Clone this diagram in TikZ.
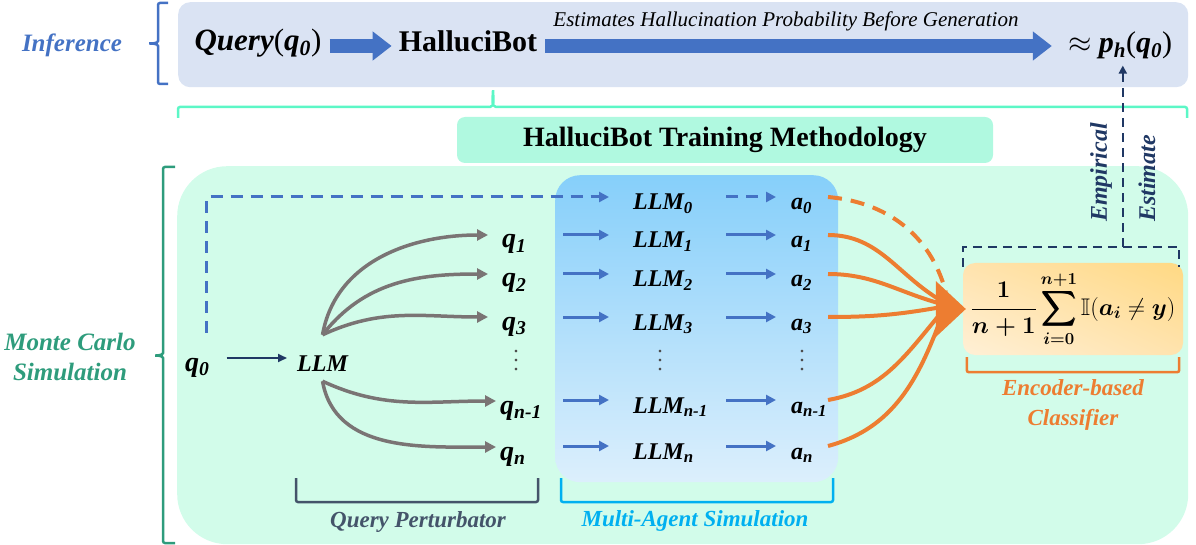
\documentclass[tikz,border=0pt]{standalone}
\usepackage{fix-cm}
\usepackage{amsmath,amssymb,bm}
\usepackage{fontspec}
\setmainfont{Liberation Serif}[BoldItalicFont={Liberation Serif Bold Italic}]
\usetikzlibrary{arrows.meta,calc,shadings}
\definecolor{infblue}{HTML}{4472C4}
\definecolor{topbg}{HTML}{DAE3F3}
\definecolor{aqua}{HTML}{5CF7C6}
\definecolor{trainbg}{HTML}{B0F9E0}
\definecolor{greenbg}{HTML}{D2FCEA}
\definecolor{mcteal}{HTML}{2E9C7C}
\definecolor{agtop}{HTML}{86CFFA}
\definecolor{agbot}{HTML}{DCEFFC}
\definecolor{navy}{HTML}{203864}
\definecolor{qgray}{HTML}{7A7474}
\definecolor{orng}{HTML}{ED7D31}
\definecolor{perturb}{HTML}{44546A}
\definecolor{cyanb}{HTML}{00B0F0}
\definecolor{fmlight}{HTML}{FFF0D6}
\definecolor{fmmid}{HTML}{FFE3AE}
\definecolor{fmdark}{HTML}{FFD983}
\newcommand{\fsz}[2]{\fontsize{#1}{#2}\selectfont}
\newcommand{\bi}[1]{\textbf{\textit{#1}}}
\newcommand{\tallvdots}{\vbox{\baselineskip=9pt\lineskiplimit=0pt\hbox{.}\hbox{.}\hbox{.}}}
\begin{document}
\begin{tikzpicture}[x=1pt,y=-1pt,
 rowq/.style={inner sep=0pt,anchor=west,text height=27pt,text depth=1pt,font=\fsz{28}{30}\bfseries\itshape},
 rowl/.style={inner sep=0pt,anchor=west,text height=26pt,text depth=0pt,font=\fsz{24}{26}\bfseries\itshape},
 barrow/.style={draw=infblue,line width=3pt,-{Triangle[length=10pt 0,width=10pt 0]}},
 garrow/.style={draw=qgray,line width=3.5pt,-{Triangle[length=11pt 0,width=11pt 0]}},
 oline/.style={draw=orng,line width=4pt},
 blockarrow/.style={draw=infblue,line width=14pt,-{Triangle[length=19pt 0,width=28pt 0]}},
 bracketline/.style={line width=2.5pt,rounded corners=2pt},
 sidelab/.style={font=\fsz{25}{30}\bfseries\itshape,align=center},
 bottomlab/.style={font=\fsz{23}{30}\bfseries\itshape,align=center},
 navydash/.style={draw=navy,line width=2.2pt,dash pattern=on 9pt off 6pt},
 dotsnode/.style={font=\fsz{22}{22},text=black!70,inner sep=0pt}
]
\useasboundingbox (0,0) rectangle (1196,545);

% ---------- Inference ----------
\node[fill=topbg,rounded corners=12pt,minimum width=1010pt,minimum height=85pt,inner sep=0pt,anchor=north west] (infbox) at (178,2) {};
\draw[infblue,bracketline] (168,3) -- (158,3) -- (158,39) to[out=-90,in=0] (148,43.5) to[out=0,in=90] (158,48) -- (158,84) -- (168,84);
\node[sidelab,text=infblue] (inf) at (72,45) {Inference};

\coordinate (iy) at (0,46);
\node[anchor=base,inner sep=0pt,font=\fsz{31}{33}] (query) at (258,51) {\bi{Query}(\bi{q}\textsubscript{\bi{0}})};
\node[anchor=base,inner sep=0pt,font=\fsz{30}{32}\bfseries] (hbot) at (468,52) {HalluciBot};
\node[anchor=base,inner sep=0pt,font=\fsz{30}{32}] (ph) at (1120,53) {$\approx$ \bi{p}\textsubscript{\bi{h}}(\bi{q}\textsubscript{\bi{0}})};
\node[anchor=base,inner sep=0pt,font=\fsz{21}{24}\itshape] (est) at (786,27) {Estimates Hallucination Probability Before Generation};
\draw[blockarrow] ($(query.east |- iy)+(8,0)$) -- ($(hbot.west |- iy)+(-7,0)$);
\draw[blockarrow] ($(hbot.east |- iy)+(8,0)$) -- ($(ph.west |- iy)+(-16,0)$);

\draw[aqua,bracketline] (178,118) -- (178,107) -- (488,107) to[out=0,in=-90] (493,89) to[out=-90,in=180] (498,107) -- (1187,107) -- (1187,118);

\node[fill=trainbg,rounded corners=8pt,minimum width=536pt,minimum height=46pt,inner sep=0pt,font=\fsz{28}{30}\bfseries] (train) at (725,140) {HalluciBot Training Methodology};

% ---------- Monte Carlo region ----------
\node[fill=greenbg,rounded corners=50pt,minimum width=1011pt,minimum height=378pt,inner sep=0pt,anchor=north west] (mcregion) at (177,166) {};
\draw[mcteal,bracketline] (175,167) -- (163,167) -- (163,351) to[out=-90,in=0] (154,355.5) to[out=0,in=90] (163,360) -- (163,543) -- (175,543);
\node[sidelab,text=mcteal] (mc) at (70,357) {Monte Carlo\\Simulation};

\node[top color=agtop,bottom color=agbot,rounded corners=25pt,minimum width=283pt,minimum height=307pt,inner sep=0pt,anchor=north west] (agent) at (555,175) {};

% query perturbator
\node[rowq] (q0) at (185,358) {q\textsubscript{0}};
\node[rowl] (llm) at (297,358) {LLM};
\draw[navy,line width=2pt,-{Triangle[length=9pt 0,width=8pt 0]}] ([xshift=17pt]q0.east) -- ([xshift=-10pt]llm.west);

\node[rowq] (q1) at (502,235) {q\textsubscript{1}};
\node[rowq] (q2) at (502,274) {q\textsubscript{2}};
\node[rowq] (q3) at (502,317) {q\textsubscript{3}};
\node[rowq] (qm) at (500,401) {q\textsubscript{n-1}};
\node[rowq] (qn) at (500,447) {q\textsubscript{n}};
\node[dotsnode] (qd) at (516,361) {\tallvdots};

\coordinate (up) at ($(llm.north)+(0,-10)$);
\coordinate (dn) at ($(llm.south)+(0,10)$);
\draw[garrow] (up) to[out=80,in=180] ([xshift=-14pt]q1.west);
\draw[garrow] (up) to[out=52,in=180] ([xshift=-14pt]q2.west);
\draw[garrow] (up) to[out=25,in=180] ([xshift=-14pt]q3.west);
\draw[garrow] (dn) to[out=-25,in=180] ([xshift=-4pt]qm.west);
\draw[garrow] (dn) to[out=-80,in=180] ([xshift=-4pt]qn.west);

% multi-agent
\node[rowl] (m0) at (633,197) {LLM\textsubscript{0}};
\node[rowl] (m1) at (633,235) {LLM\textsubscript{1}};
\node[rowl] (m2) at (633,274) {LLM\textsubscript{2}};
\node[rowl] (m3) at (633,317) {LLM\textsubscript{3}};
\node[rowl] (mm) at (633,400) {LLM\textsubscript{n-1}};
\node[rowl] (mn) at (633,446) {LLM\textsubscript{n}};
\node[dotsnode] (md) at (660,361) {\tallvdots};

\node[rowl] (a0) at (791,197) {a\textsubscript{0}};
\node[rowl] (a1) at (791,235) {a\textsubscript{1}};
\node[rowl] (a2) at (791,274) {a\textsubscript{2}};
\node[rowl] (a3) at (791,317) {a\textsubscript{3}};
\node[rowl] (am) at (791,400) {a\textsubscript{n-1}};
\node[rowl] (an) at (791,446) {a\textsubscript{n}};
\node[dotsnode] (ad) at (802,361) {\tallvdots};

\draw[infblue,line width=3pt,dash pattern=on 12pt off 8pt,-{Triangle[length=10pt 0,width=10pt 0]}] ($(q0.north)+(9,-11)$) |- ([xshift=-24pt]m0.west);
\foreach \r in {m1,m2,m3,mm,mn}{
  \draw[barrow] ([xshift=-70pt]\r.west) -- ([xshift=-24pt]\r.west);
}
\draw[barrow,dash pattern=on 12pt off 8pt] ([xshift=-65pt]a0.west) -- ([xshift=-15pt]a0.west);
\foreach \r in {a1,a2,a3,am,an}{
  \draw[barrow] ([xshift=-65pt]\r.west) -- ([xshift=-15pt]\r.west);
}

% ---------- classifier ----------
\node[upper left=fmmid,upper right=fmdark,lower left=fmlight,lower right=fmmid,rounded corners=12pt,minimum width=220pt,minimum height=92pt,inner sep=0pt,font=\fsz{24}{28}] (fbox) at (1073,309) {$\displaystyle\bm{\frac{1}{n+1}\sum_{i=0}^{n+1}}\mathbb{I}(\bm{a_i}\neq\bm{y})$};

\coordinate (tip) at ([xshift=3pt]fbox.west);
\draw[oline] ([xshift=37pt]a1.west) to[out=0,in=150] ($(tip)+(-24,-8)$);
\draw[oline] ([xshift=37pt]a2.west) to[out=0,in=165] ($(tip)+(-24,-5)$);
\draw[oline] ([xshift=37pt]a3.west) to[out=0,in=-170] ($(tip)+(-24,-2)$);
\draw[oline] ([xshift=37pt]am.west) to[out=10,in=-130] ($(tip)+(-24,3)$);
\draw[oline] ([xshift=37pt]an.west) to[out=15,in=-110] ($(tip)+(-24,7)$);
\draw[oline,dash pattern=on 14pt off 9pt] ([xshift=37pt]a0.west) to[out=-5,in=105] ($(tip)+(-20,-17)$);
\fill[orng] (tip) -- ++(-30,-28) -- ++(0,56) -- cycle;

\draw[navydash] ($(fbox.north west)+(0,4)$) -- ++(0,-20) -| ($(fbox.north east)+(-4,4)$);
\coordinate (emp) at ($(fbox.north west)+(160,-16)$);
\draw[navydash,-{Triangle[length=8pt 0,width=8pt 0]},shorten >=6pt] (emp) -- (emp |- ph.south);
\node[rotate=90,anchor=west,font=\fsz{24}{26}\bfseries\itshape,text=navy,inner sep=0pt] (emp1) at (1101,222) {Empirical};
\node[rotate=90,anchor=west,font=\fsz{24}{26}\bfseries\itshape,text=navy,inner sep=0pt] (emp2) at (1147,222) {Estimate};

\draw[orng,bracketline] ($(fbox.south west)+(4,2)$) -- ++(0,15) -| ($(fbox.south east)+(-4,2)$);
\node[bottomlab,text=orng] (enc) at (1073,405) {Encoder-based\\Classifier};

% ---------- bottom brackets ----------
\draw[perturb,bracketline] (296,478) -- (296,502) -- (538,502) -- (538,478);
\node[bottomlab,text=perturb] (qp) at (418,522) {Query Perturbator};
\draw[cyanb,bracketline] (561,478) -- (561,502) -- (833,502) -- (833,478);
\node[bottomlab,text=cyanb] (mas) at (695,521) {Multi-Agent Simulation};
\end{tikzpicture}
\end{document}
